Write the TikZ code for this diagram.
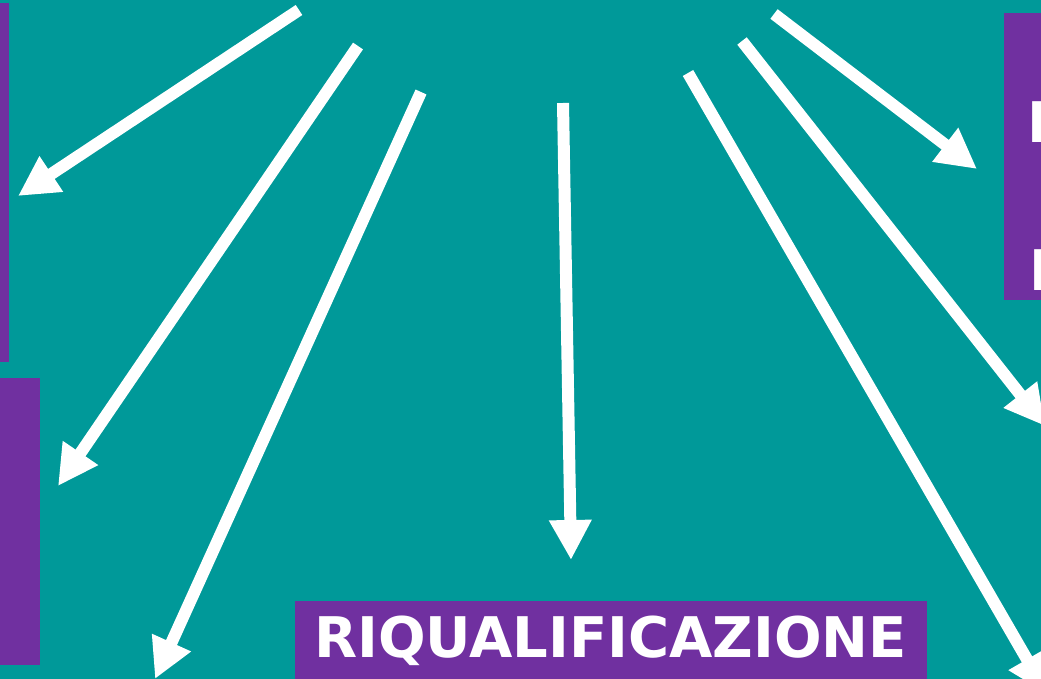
\documentclass[tikz,border=0pt]{standalone}
\usepackage{fontspec}
\setmainfont{DejaVu Sans}
\usetikzlibrary{arrows.meta}
\definecolor{tealbg}{RGB}{0,153,153}
\definecolor{viola}{RGB}{112,48,160}

\begin{document}
\begin{tikzpicture}[x=1pt,y=-1pt,
    freccia/.style={draw=white,line width=12pt,-{Triangle[length=40pt,width=40pt]}},
    riquadro/.style={fill=viola,draw=none},
    scritta/.style={text=white,font=\fontsize{56}{60}\selectfont\bfseries,inner sep=0pt,anchor=base west}]
  \useasboundingbox (0,0) rectangle (1041,679);
  \clip (0,0) rectangle (1041,679);
  \fill[tealbg] (0,0) rectangle (1041,679);

  \fill[riquadro] (-10,3) rectangle (9,362);
  \fill[riquadro] (-10,378) rectangle (40,665);
  \fill[riquadro] (1004,13) rectangle (1060,300);
  \fill[riquadro] (295,601) rectangle (927,690);

  \node (m) [scritta] at (1027,143) {M};
  \node (e) [scritta] at (1029,290) {E};
  \node (riq) [scritta] at (314,657) {RIQUALIFICAZIONE};

  \coordinate (s1) at (299,10);   \coordinate (t1) at (18,196);
  \coordinate (s2) at (358,46);   \coordinate (t2) at (58,486);
  \coordinate (s3) at (421,92);   \coordinate (t3) at (155,679);
  \coordinate (s4) at (563,103);  \coordinate (t4) at (571,560);
  \coordinate (s5) at (688,73);   \coordinate (t5) at (1047,694);
  \coordinate (s6) at (742,41);   \coordinate (t6) at (1045,426);
  \coordinate (s7) at (774,14);   \coordinate (t7) at (977,169);

  \foreach \i in {1,...,7}
    \draw[freccia] (s\i) -- (t\i);
\end{tikzpicture}
\end{document}
